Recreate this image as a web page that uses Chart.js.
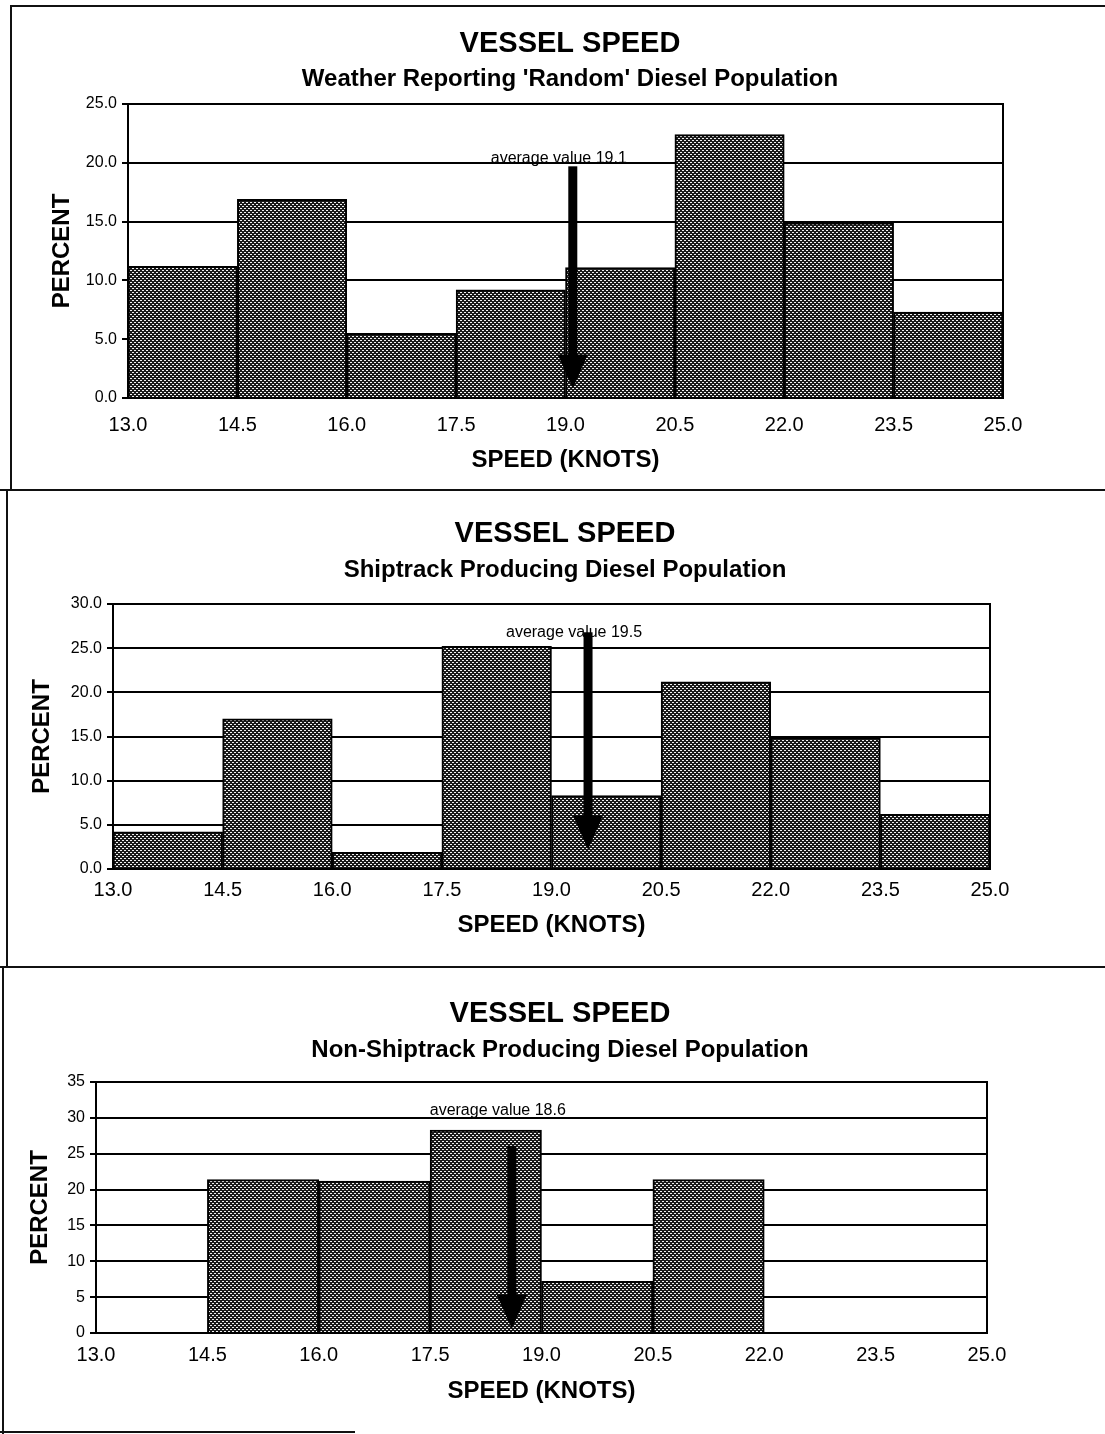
<!DOCTYPE html>
<html>
<head>
<meta charset="utf-8">
<title>Vessel Speed</title>
<script src="https://cdn.jsdelivr.net/npm/chart.js@4.4.1/dist/chart.umd.min.js"></script>
<style>
  html, body { margin: 0; padding: 0; background: #fff; }
  #page { position: relative; width: 1105px; height: 1434px; overflow: hidden; background: #fff; }
  .panel { position: absolute; left: 0; width: 1105px; }
  .panel canvas { display: block; }
  .rule { position: absolute; background: #111; }
</style>
</head>
<body>
<div id="page">
  <div class="panel" style="top:0px"><canvas id="chartRandom" width="1105" height="490"></canvas></div>
  <div class="panel" style="top:490px"><canvas id="chartShiptrack" width="1105" height="477"></canvas></div>
  <div class="panel" style="top:967px"><canvas id="chartNonShiptrack" width="1105" height="467"></canvas></div>

  <!-- page frame and panel separators -->
  <div class="rule" style="left:10px; top:5px; width:1095px; height:2px"></div>
  <div class="rule" style="left:10px; top:5px; width:2px; height:486px"></div>
  <div class="rule" style="left:0px; top:489px; width:1105px; height:2px"></div>
  <div class="rule" style="left:6px; top:489px; width:2px; height:478px"></div>
  <div class="rule" style="left:0px; top:966px; width:1105px; height:2px"></div>
  <div class="rule" style="left:2px; top:966px; width:2px; height:468px"></div>
  <div class="rule" style="left:0px; top:1431px; width:355px; height:2px"></div>
</div>

<script>
// Speed bins (knots): tick labels on the x axis are the bin edges
const speedTicks = [13.0, 14.5, 16.0, 17.5, 19.0, 20.5, 22.0, 23.5, 25.0];
const binStarts  = [13.0, 14.5, 16.0, 17.5, 19.0, 20.5, 22.0, 23.5];

// Percent of vessels in each speed bin
const randomPct       = [11.2, 16.9, 5.5, 9.2, 11.1, 22.4, 14.9, 7.3];
const shiptrackPct    = [4.2, 17.0, 1.9, 25.2, 8.3, 21.2, 14.9, 6.2];
const nonShiptrackPct = [0, 21.4, 21.2, 28.3, 7.2, 21.4, 0, 0];

// Mean speed of each population (knots)
const averageSpeeds = [19.1, 19.5, 18.6];

// Headings
const mainTitle = 'VESSEL SPEED';
const subTitles = [
  "Weather Reporting 'Random' Diesel Population",
  'Shiptrack Producing Diesel Population',
  'Non-Shiptrack Producing Diesel Population'
];
const xAxisTitle = 'SPEED (KNOTS)';
const yAxisTitle = 'PERCENT';

// Percent axis ranges
const yMax = [25, 30, 35];
const yStep = [5, 5, 5];
const yDecimals = [1, 1, 0];

// Arrow extent and label height, in percent units
const arrowFrom = [19.7, 26.8, 26.1];
const arrowTo   = [0.8, 2.2, 0.6];
const arrowLabelAt = [20.35, 26.8, 31.0];

const FONT = '"Liberation Sans", Arial, Helvetica, sans-serif';

// Stippled fill used by the histogram bars
function stipple() {
  const c = document.createElement('canvas');
  c.width = 4; c.height = 4;
  const g = c.getContext('2d');
  g.fillStyle = '#1a1a1a';
  g.fillRect(0, 0, 4, 4);
  g.fillStyle = '#f2f2f2';
  g.fillRect(0, 0, 2, 1);
  g.fillRect(2, 2, 2, 1);
  return g.createPattern(c, 'repeat');
}
const BAR_FILL = stipple();

// Frame around the plot plus the "average value" arrow
const averageArrow = {
  id: 'averageArrow',
  afterDatasetsDraw(chart, args, opts) {
    const { ctx, chartArea: a, scales } = chart;
    const x = scales.x, y = scales.y;
    ctx.save();
    ctx.strokeStyle = '#000';
    ctx.lineWidth = 2;
    ctx.strokeRect(a.left, a.top, a.right - a.left, a.bottom - a.top);

    const ax = x.getPixelForValue(opts.average);
    const top = y.getPixelForValue(opts.from);
    const tip = y.getPixelForValue(opts.to);

    ctx.fillStyle = '#000';
    ctx.font = opts.labelSize + 'px ' + FONT;
    ctx.textAlign = 'center';
    ctx.textBaseline = 'middle';
    ctx.fillText('average value ' + opts.average.toFixed(1), ax + opts.labelDx, y.getPixelForValue(opts.labelAt));

    const shaft = opts.shaft, headW = opts.headWidth, headL = opts.headLength;
    ctx.fillRect(ax - shaft / 2, top, shaft, tip - headL - top + 1);
    ctx.beginPath();
    ctx.moveTo(ax - headW / 2, tip - headL);
    ctx.lineTo(ax + headW / 2, tip - headL);
    ctx.lineTo(ax, tip);
    ctx.closePath();
    ctx.fill();
    ctx.restore();
  }
};

// Panel layout (pixel positions inside each canvas)
const layouts = [
  { h: 490, titleCX: 570, titleY: 44, subY: 79, top: 104, bottom: 398, left: 128, right: 1003, yTitleX: 62, xTitleY: 460, xLabelY: 425 },
  { h: 477, titleCX: 565, titleY: 44, subY: 80, top: 114, bottom: 379, left: 113, right: 990,  yTitleX: 42, xTitleY: 435, xLabelY: 400 },
  { h: 467, titleCX: 560, titleY: 47, subY: 83, top: 115, bottom: 366, left: 96,  right: 987,  yTitleX: 40, xTitleY: 424, xLabelY: 388 }
];

const SIZES = { title: 29, sub: 24, axisTitle: 24, yTick: 16, xTick: 20, lh: 1.2, tickLen: 6, yTickPad: 5 };
const W = 1105;

function buildChart(canvasId, values, idx) {
  const L = layouts[idx];
  const S = SIZES;
  const half = s => s * S.lh / 2;
  const binWidth = speedTicks[1] - speedTicks[0];
  const points = binStarts.map((s, i) => ({ x: s + binWidth / 2, y: values[i] }));

  const padLeft = Math.max(0, 2 * L.titleCX - W);
  const titleTop = L.titleY - half(S.title);
  const subPadTop = (L.subY - half(S.sub)) - (L.titleY + half(S.title));
  const subPadBottom = L.top - (L.subY + half(S.sub));

  return new Chart(document.getElementById(canvasId), {
    type: 'bar',
    data: {
      datasets: [{
        data: points,
        yAxisID: 'y',
        backgroundColor: BAR_FILL,
        borderColor: '#000',
        borderWidth: c => (c.raw && c.raw.y > 0 ? 2 : 0),
        borderSkipped: 'start',
        barPercentage: 1.0,
        categoryPercentage: 1.0
      }]
    },
    options: {
      responsive: false,
      animation: false,
      events: [],
      layout: { padding: { left: padLeft, top: 0, bottom: 0, right: 0 } },
      plugins: {
        legend: { display: false },
        tooltip: { enabled: false },
        title: {
          display: true, text: mainTitle, color: '#000',
          font: { family: FONT, size: S.title, weight: 'bold', lineHeight: S.lh },
          padding: { top: titleTop, bottom: 0 }
        },
        subtitle: {
          display: true, text: subTitles[idx], color: '#000',
          font: { family: FONT, size: S.sub, weight: 'bold', lineHeight: S.lh },
          padding: { top: subPadTop, bottom: subPadBottom }
        },
        averageArrow: {
          average: averageSpeeds[idx], from: arrowFrom[idx], to: arrowTo[idx],
          labelAt: arrowLabelAt[idx], labelDx: -14, labelSize: 16,
          shaft: 9, headWidth: 30, headLength: 34
        }
      },
      scales: {
        x: {
          type: 'linear',
          offset: false,
          min: speedTicks[0],
          max: speedTicks[speedTicks.length - 1],
          afterBuildTicks: scale => { scale.ticks = speedTicks.map(v => ({ value: v })); },
          grid: { display: false, drawTicks: false },
          border: { display: true, color: '#000', width: 2 },
          ticks: {
            autoSkip: false, maxRotation: 0, color: '#000',
            padding: L.xLabelY - L.bottom - half(S.xTick),
            font: { family: FONT, size: S.xTick, lineHeight: S.lh },
            callback: v => Number(v).toFixed(1)
          },
          title: {
            display: true, text: xAxisTitle, color: '#000',
            font: { family: FONT, size: S.axisTitle, weight: 'bold', lineHeight: S.lh },
            padding: { top: 0, bottom: L.h - L.xTitleY - half(S.axisTitle) }
          },
          afterFit: scale => { scale.height = L.h - L.bottom; }
        },
        y: {
          position: 'left',
          min: 0, max: yMax[idx],
          grid: { color: '#000', lineWidth: 2, drawTicks: true, tickLength: S.tickLen },
          border: { display: true, color: '#000', width: 2 },
          ticks: {
            stepSize: yStep[idx], color: '#000', padding: S.yTickPad,
            font: { family: FONT, size: S.yTick, lineHeight: S.lh },
            callback: v => Number(v).toFixed(yDecimals[idx])
          },
          title: {
            display: true, text: yAxisTitle, color: '#000',
            font: { family: FONT, size: S.axisTitle, weight: 'bold', lineHeight: S.lh },
            padding: { top: L.yTitleX - padLeft - half(S.axisTitle), bottom: 0 }
          },
          afterFit: scale => { scale.width = L.left - padLeft; }
        },
        // blank margin on the right of the plot
        margin: {
          type: 'linear',
          position: 'right',
          display: true,
          grid: { display: false, drawTicks: false },
          border: { display: false },
          ticks: { display: false },
          afterFit: scale => { scale.width = W - L.right; }
        }
      }
    },
    plugins: [averageArrow]
  });
}

buildChart('chartRandom', randomPct, 0);
buildChart('chartShiptrack', shiptrackPct, 1);
buildChart('chartNonShiptrack', nonShiptrackPct, 2);
</script>
</body>
</html>
